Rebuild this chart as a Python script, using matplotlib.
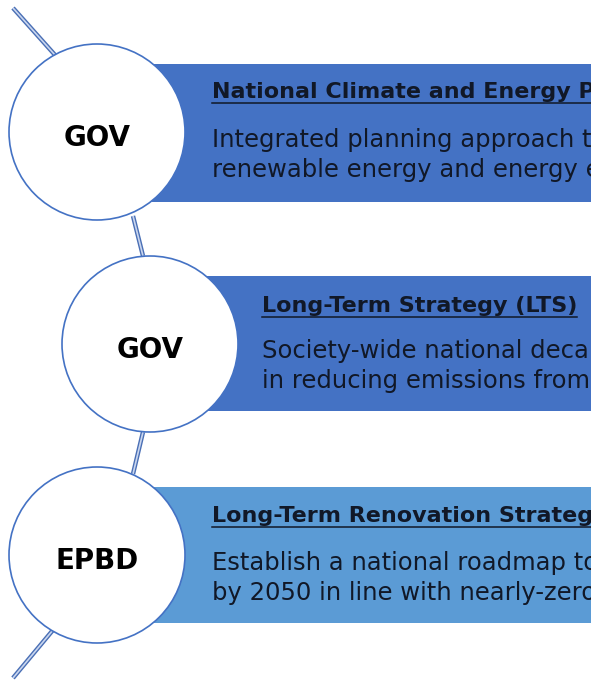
#!/usr/bin/env python3
"""
Policy timeline diagram: GOV / GOV / EPBD
"""

import matplotlib.pyplot as plt
from matplotlib.patches import Circle, Rectangle

# Content
labels = ['GOV', 'GOV', 'EPBD']
titles = ['National Climate and Energy Plans (NECPs)',
          'Long-Term Strategy (LTS)',
          'Long-Term Renovation Strategy (LTRS)']
body_lines = [['Integrated planning approach to climate,',
               'renewable energy and energy efficiency'],
              ['Society-wide national decarbonisation pathways',
               'in reducing emissions from buildings'],
              ['Establish a national roadmap to decarbonise',
               'by 2050 in line with nearly-zero energy']]
band_colors = ['#4472C4', '#4472C4', '#5B9BD5']

# Layout (pixels, y downward)
W, H = 591, 681
centers = [(97, 132), (150, 344), (97, 555)]
radius = 88
bands = [(150, 64, 202), (200, 276, 411), (150, 487, 623)]   # x0, top, bottom
text_x = [212, 262, 212]
title_base = [98, 312, 522]
body_base = [[147, 177], [358, 388], [570, 600]]
connectors = [((13, 8), (55, 55)), ((133, 216), (143, 256)),
              ((143, 432), (133, 474)), ((53, 630), (13, 678))]

FONT = 'DejaVu Sans'
TXT = '#111827'

fig = plt.figure(figsize=(W / 100, H / 100), dpi=100)
ax = fig.add_axes([0, 0, 1, 1])
ax.set_xlim(0, W)
ax.set_ylim(H, 0)
ax.axis('off')

# connector lines (double line look)
for (x0, y0), (x1, y1) in connectors:
    ax.plot([x0, x1], [y0, y1], color='#4a6fb5', lw=3.2, solid_capstyle='butt', zorder=1)
    ax.plot([x0, x1], [y0, y1], color='#c9d6ef', lw=1.2, solid_capstyle='butt', zorder=1.1)

# bands
for (x0, top, bot), col in zip(bands, band_colors):
    ax.add_patch(Rectangle((x0, top), W - x0, bot - top, facecolor=col,
                           edgecolor='none', zorder=2))

# circles
for (cx, cy), lab in zip(centers, labels):
    ax.add_patch(Circle((cx, cy), radius, facecolor='white', edgecolor='#4472C4',
                        lw=1.2, zorder=3))
    ax.text(cx, cy + 14, lab, ha='center', va='baseline', fontsize=20,
            fontweight='bold', family=FONT, color='black', zorder=4)

# titles + body text
title_objs = []
for i in range(3):
    t = ax.text(text_x[i], title_base[i], titles[i], ha='left', va='baseline',
                fontsize=16, fontweight='bold', family=FONT, color=TXT, zorder=4)
    title_objs.append(t)
    for line, yb in zip(body_lines[i], body_base[i]):
        ax.text(text_x[i], yb, line, ha='left', va='baseline', fontsize=17.5,
                family=FONT, color=TXT, zorder=4)

# underline titles
fig.canvas.draw()
renderer = fig.canvas.get_renderer()
inv = ax.transData.inverted()
for i, t in enumerate(title_objs):
    bb = t.get_window_extent(renderer)
    (xa, _), (xb, _) = inv.transform([(bb.x0, bb.y0), (bb.x1, bb.y0)])
    ax.plot([xa, xb], [title_base[i] + 5, title_base[i] + 5], color=TXT,
            lw=1.1, zorder=4)

plt.savefig('out.png', dpi=100)
